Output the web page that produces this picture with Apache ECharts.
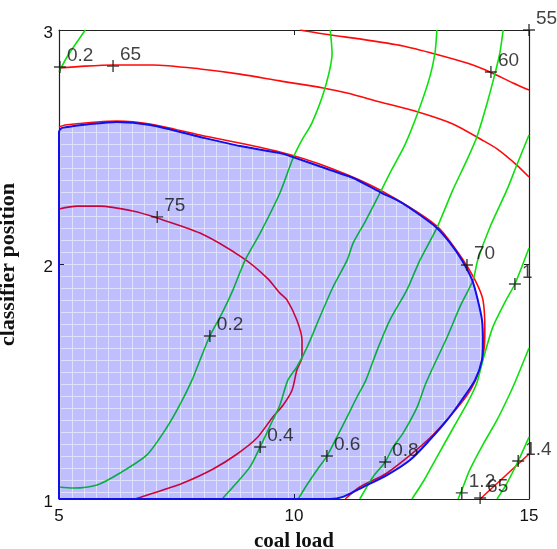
<!DOCTYPE html>
<html>
<head>
<meta charset="utf-8">
<script src="https://cdn.jsdelivr.net/npm/echarts@6.0.0/dist/echarts.min.js"></script>
<style>
html, body { margin: 0; padding: 0; background: #fff; }
#chart { width: 557px; height: 549px; }
</style>
</head>
<body>
<div id="chart"></div>
<script>
// axis ticks
const xTicks = [5, 10, 15];
const yTicks = [1, 2, 3];

// red contours [coal load, classifier position]
const red65 = [[5.0,2.838],[5.55,2.846],[6.15,2.851],[7.0,2.851],[8.0,2.834],[8.85,2.812],[9.70,2.783],[10.62,2.753],[11.13,2.731],[11.83,2.693],[12.64,2.650],[13.38,2.599],[14.0,2.531],[14.32,2.493],[14.74,2.424],[15.0,2.373]];
const red65b = [[13.96,1.0],[15.0,1.192]];
const red60 = [[10.13,3.0],[10.77,2.979],[11.40,2.962],[12.32,2.932],[13.0,2.898],[13.68,2.859],[14.17,2.821],[14.66,2.774],[15.0,2.744]];
const red70 = [[5.0,2.586],[5.13,2.595],[6.23,2.612],[6.94,2.599],[8.0,2.552],[9.70,2.480],[10.77,2.412],[11.83,2.318],[13.04,2.164],[13.57,2.028],[13.85,1.934],[14.02,1.849],[14.06,1.721],[14.04,1.635],[13.91,1.529],[13.64,1.431],[12.89,1.260],[11.98,1.111],[11.40,1.051],[11.09,1.0]];
const red75 = [[5.0,2.237],[5.38,2.249],[5.87,2.249],[6.57,2.228],[7.09,2.198],[8.0,2.134],[8.91,2.028],[9.43,1.942],[9.70,1.878],[9.85,1.849],[10.06,1.763],[10.17,1.678],[10.17,1.606],[10.06,1.550],[9.96,1.465],[9.77,1.401],[9.55,1.350],[9.21,1.260],[8.79,1.192],[8.28,1.128],[7.64,1.068],[7.15,1.034],[6.68,1.004],[6.62,1.0]];

// green contours
const green02a = [[5.0,2.821],[5.17,2.885],[5.56,3.0]];
const green02 = [[5.0,1.051],[5.30,1.047],[5.81,1.060],[6.30,1.111],[6.87,1.188],[7.30,1.307],[7.57,1.401],[7.83,1.507],[8.0,1.593],[8.21,1.695],[8.47,1.793],[8.70,1.891],[8.96,2.019],[9.28,2.134],[9.70,2.305],[9.98,2.454],[10.17,2.531],[10.38,2.603],[10.66,2.753],[10.81,2.902],[10.77,3.0]];
const green04 = [[8.47,1.0],[8.70,1.051],[9.06,1.136],[9.28,1.222],[9.55,1.337],[9.70,1.401],[9.87,1.507],[10.06,1.563],[10.28,1.648],[10.55,1.776],[10.83,1.904],[11.13,2.019],[11.26,2.092],[11.51,2.181],[11.83,2.305],[12.04,2.390],[12.36,2.510],[12.64,2.650],[12.89,2.800],[13.0,2.902],[13.04,3.0]];
const green06 = [[10.09,1.0],[10.30,1.068],[10.49,1.124],[10.70,1.183],[10.91,1.264],[11.13,1.350],[11.34,1.435],[11.53,1.507],[11.77,1.635],[12.04,1.763],[12.40,1.891],[12.68,2.019],[13.04,2.156],[13.38,2.318],[13.68,2.446],[13.89,2.544],[14.11,2.689],[14.28,2.817],[14.38,2.902],[14.45,3.0]];
const green08 = [[11.40,1.0],[11.68,1.094],[11.94,1.158],[12.11,1.222],[12.32,1.281],[12.62,1.392],[12.79,1.486],[12.96,1.563],[13.26,1.691],[13.53,1.819],[13.81,1.934],[13.91,2.019],[14.17,2.160],[14.53,2.318],[14.74,2.424],[15.0,2.552]];
const green10 = [[12.51,1.0],[12.77,1.081],[13.04,1.179],[13.40,1.307],[13.72,1.422],[13.89,1.495],[14.02,1.593],[14.23,1.733],[14.49,1.840],[14.70,1.917],[15.0,2.070]];
const green12 = [[13.49,1.0],[13.57,1.038],[13.74,1.124],[14.04,1.239],[14.32,1.337],[14.60,1.452],[14.74,1.516],[15.0,1.644]];
const green14 = [[14.32,1.0],[14.51,1.060],[14.77,1.162],[15.0,1.264]];

// shaded feasible region (closed boundary)
const region = [[5.0,1.0],[5.0,2.565],[5.06,2.582],[5.17,2.586],[5.66,2.599],[6.23,2.608],[6.94,2.595],[8.0,2.544],[8.85,2.505],[9.70,2.475],[9.98,2.458],[10.77,2.403],[11.26,2.369],[11.83,2.309],[12.26,2.267],[12.68,2.211],[13.04,2.156],[13.32,2.092],[13.57,2.019],[13.79,1.934],[13.91,1.849],[14.0,1.763],[14.02,1.678],[14.0,1.593],[13.85,1.507],[13.57,1.422],[13.26,1.337],[12.89,1.252],[12.47,1.166],[11.98,1.102],[11.47,1.051],[11.04,1.009],[10.77,1.0],[5.0,1.0]];

// "+" markers with their labels
const markerLabels = ['0.2','65','75','0.2','0.4','0.6','0.8','70','60','55','1','1.2','65','1.4'];
const markerPoints = [[5.02,2.842],[6.15,2.846],[7.09,2.203],[8.21,1.695],[9.28,1.222],[10.70,1.183],[11.94,1.158],[13.68,1.998],[14.19,2.821],[15.0,3.0],[14.70,1.917],[13.57,1.026],[13.96,1.004],[14.77,1.162]];

const RED = '#ff0a0a';
const GREEN = '#0ee00e';

function gridPattern() {
  const c = document.createElement('canvas');
  c.width = 12; c.height = 12;
  const g = c.getContext('2d');
  g.fillStyle = 'rgba(0,0,255,0.25)';
  g.fillRect(0, 0, 12, 12);
  g.clearRect(0, 0, 12, 1);
  g.clearRect(0, 1, 1, 11);
  g.fillStyle = 'rgba(0,0,255,0.12)';
  g.fillRect(0, 0, 12, 1);
  g.fillRect(0, 1, 1, 11);
  return c;
}
const pattern = gridPattern();

function contour(data, color) {
  return {
    type: 'line', data: data, showSymbol: false, smooth: 0.25, z: 2,
    lineStyle: { color: color, width: 1.6 }, silent: true
  };
}

const chart = echarts.init(document.getElementById('chart'));

const axisFont = { fontFamily: 'Liberation Sans', fontSize: 17, color: '#111' };
const nameFont = { fontFamily: 'Liberation Serif', fontWeight: 'bold', color: '#111' };

chart.setOption({
  animation: false,
  grid: { left: 59, top: 30, right: 28, bottom: 50, outerBoundsMode: 'none', show: false },
  xAxis: [
    {
      type: 'value', min: xTicks[0], max: xTicks[xTicks.length - 1], interval: xTicks[1] - xTicks[0],
      name: 'coal load', nameLocation: 'middle', nameGap: 32,
      nameTextStyle: Object.assign({ fontSize: 21 }, nameFont),
      axisLine: { show: true, lineStyle: { color: '#222', width: 1.2 } },
      axisTick: { show: true, inside: true, length: 5, lineStyle: { color: '#222' } },
      axisLabel: Object.assign({ margin: 9 }, axisFont),
      splitLine: { show: false }
    },
    {
      type: 'value', position: 'top', min: xTicks[0], max: xTicks[xTicks.length - 1], interval: xTicks[1] - xTicks[0],
      axisLine: { show: true, lineStyle: { color: '#222', width: 1.2 } },
      axisTick: { show: true, inside: true, length: 5, lineStyle: { color: '#222' } },
      axisLabel: { show: false }, splitLine: { show: false }
    }
  ],
  yAxis: [
    {
      type: 'value', min: yTicks[0], max: yTicks[yTicks.length - 1], interval: yTicks[1] - yTicks[0],
      name: 'classifier position', nameLocation: 'middle', nameGap: 40,
      nameTextStyle: Object.assign({ fontSize: 22 }, nameFont),
      axisLine: { show: true, lineStyle: { color: '#222', width: 1.2 } },
      axisTick: { show: true, inside: true, length: 5, lineStyle: { color: '#222' } },
      axisLabel: Object.assign({ margin: 6, verticalAlign: 'top', lineHeight: 6 }, axisFont),
      splitLine: { show: false }
    },
    {
      type: 'value', position: 'right', min: yTicks[0], max: yTicks[yTicks.length - 1], interval: yTicks[1] - yTicks[0],
      axisLine: { show: true, lineStyle: { color: '#222', width: 1.2 } },
      axisTick: { show: true, inside: true, length: 5, lineStyle: { color: '#222' } },
      axisLabel: { show: false }, splitLine: { show: false }
    }
  ],
  series: [
    contour(red65, RED), contour(red65b, RED), contour(red60, RED),
    contour(red70, RED), contour(red75, RED),
    contour(green02a, GREEN), contour(green02, GREEN), contour(green04, GREEN),
    contour(green06, GREEN), contour(green08, GREEN), contour(green10, GREEN),
    contour(green12, GREEN), contour(green14, GREEN),
    {
      type: 'custom', z: 3, silent: true,
      data: [[xTicks[0], yTicks[0]]],
      renderItem: function (params, api) {
        return {
          type: 'polygon',
          shape: { points: region.map(p => api.coord(p)), smooth: 0.25 },
          style: { fill: { image: pattern, repeat: 'repeat' }, stroke: null }
        };
      }
    },
    {
      type: 'line', data: region, showSymbol: false, smooth: 0.25, z: 4, silent: true,
      lineStyle: { color: '#1010ee', width: 2 }
    },
    {
      type: 'scatter', z: 5, clip: false, silent: true,
      symbol: 'path://M4.4,0H5.6V4.4H10V5.6H5.6V10H4.4V5.6H0V4.4H4.4Z',
      symbolSize: 12,
      itemStyle: { color: '#111' },
      data: markerPoints.map((p, i) => ({ value: p, name: markerLabels[i] })),
      label: {
        show: true, formatter: '{b}', position: 'right', distance: 1, offset: [0, -11],
        fontFamily: 'Liberation Sans', fontSize: 19, color: '#111'
      }
    }
  ]
});
</script>
</body>
</html>
